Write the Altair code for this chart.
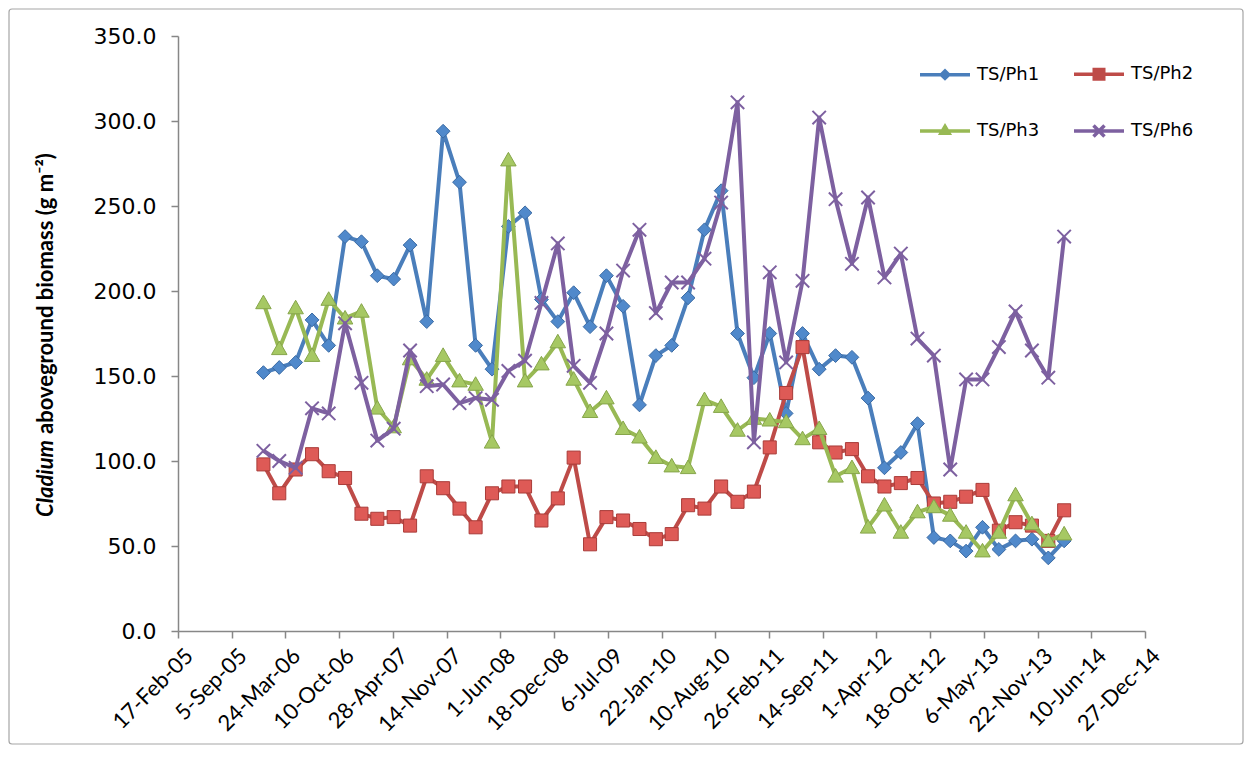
import altair as alt
import pandas as pd

# ---------------- data ----------------
dates = [
    "2006-01-01", "2006-03-01", "2006-05-01", "2006-07-01", "2006-09-01", "2006-11-01",
    "2007-01-01", "2007-03-01", "2007-05-01", "2007-07-01", "2007-09-01", "2007-11-01",
    "2008-01-01", "2008-03-01", "2008-05-01", "2008-07-01", "2008-09-01", "2008-11-01",
    "2009-01-01", "2009-03-01", "2009-05-01", "2009-07-01", "2009-09-01", "2009-11-01",
    "2010-01-01", "2010-03-01", "2010-05-01", "2010-07-01", "2010-09-01", "2010-11-01",
    "2011-01-01", "2011-03-01", "2011-05-01", "2011-07-01", "2011-09-01", "2011-11-01",
    "2012-01-01", "2012-03-01", "2012-05-01", "2012-07-01", "2012-09-01", "2012-11-01",
    "2013-01-01", "2013-03-01", "2013-05-01", "2013-07-01", "2013-09-01", "2013-11-01",
    "2014-01-01", "2014-03-01",
]

ph1 = [152, 155, 158, 183, 168, 232, 229, 209, 207, 227,
       182, 294, 264, 168, 154, 238, 246, 195, 182, 199,
       179, 209, 191, 133, 162, 168, 196, 236, 259, 175,
       149, 175, 128, 175, 154, 162, 161, 137, 96, 105,
       122, 55, 53, 47, 61, 48, 53, 54, 43, 53]

ph2 = [98, 81, 95, 104, 94, 90, 69, 66, 67, 62,
       91, 84, 72, 61, 81, 85, 85, 65, 78, 102,
       51, 67, 65, 60, 54, 57, 74, 72, 85, 76,
       82, 108, 140, 167, 111, 105, 107, 91, 85, 87,
       90, 75, 76, 79, 83, 59, 64, 62, 53, 71]

ph3 = [193, 166, 190, 162, 195, 184, 188, 131, 120, 160,
       148, 162, 147, 145, 111, 277, 147, 157, 170, 148,
       129, 137, 119, 114, 102, 97, 96, 136, 132, 118,
       125, 124, 123, 113, 119, 91, 96, 61, 74, 58,
       70, 73, 68, 58, 47, 58, 80, 63, 53, 57]

ph6 = [106, 100, 96, 131, 128, 181, 146, 112, 119, 165,
       144, 145, 134, 137, 136, 153, 159, 193, 228, 156,
       146, 175, 212, 236, 187, 205, 205, 219, 252, 311,
       111, 211, 158, 206, 302, 254, 216, 255, 208, 222,
       172, 162, 95, 148, 148, 167, 188, 165, 149, 232]

series_names = ["TS/Ph1", "TS/Ph2", "TS/Ph3", "TS/Ph6"]

tick_dates = [
    "2005-02-17", "2005-09-05", "2006-03-24", "2006-10-10", "2007-04-28",
    "2007-11-14", "2008-06-01", "2008-12-18", "2009-07-06", "2010-01-22",
    "2010-08-10", "2011-02-26", "2011-09-14", "2012-04-01", "2012-10-18",
    "2013-05-06", "2013-11-22", "2014-06-10", "2014-12-27",
]
y_ticks = [0, 50, 100, 150, 200, 250, 300, 350]

# ---------------- styles ----------------
line_colors = ["#4A7EBB", "#BE4B48", "#98B954", "#7D60A0"]
marker_fill = ["#5089CB", "#DE5A56", "#A6C863", "#7D60A0"]
marker_edge = ["#3A6AA3", "#A93C39", "#86A54A", "#7D60A0"]
marker_path = [
    "M0,-1L1,0L0,1L-1,0Z",
    "M-1,-1H1V1H-1Z",
    "M0,-1L1,0.75H-1Z",
    "M-1,-1L1,1M-1,1L1,-1",
]
marker_size = [190, 170, 240, 180]
marker_filled = [True, True, True, False]

# legend symbols: a line with the marker in the middle (stroke-built)
legend_paths = [
    "M-1,0H1M0,-0.15L0.15,0L0,0.15L-0.15,0Z",
    "M-1,0H1M-0.19,-0.19H0.19V0.19H-0.19ZM-0.07,-0.07H0.07V0.07H-0.07Z",
    "M-1,0H1M0,-0.18L0.16,0.09H-0.16ZM0,-0.06L0.05,0.03H-0.05Z",
    "M-1,0H1M-0.22,-0.22L0.22,0.22M-0.22,0.22L0.22,-0.22",
]

rows = []
for name, vals in zip(series_names, [ph1, ph2, ph3, ph6]):
    for d, v in zip(dates, vals):
        rows.append({"date": d, "series": name, "value": v})
df = pd.DataFrame(rows)


def dt(s):
    y, m, d = (int(p) for p in s.split("-"))
    return alt.DateTime(year=y, month=m, date=d, utc=True)


x_enc = alt.X(
    "date:T",
    scale=alt.Scale(type="utc", domain=[dt(tick_dates[0]), dt(tick_dates[-1])]),
    axis=alt.Axis(
        values=[dt(s) for s in tick_dates],
        labelExpr="utcFormat(datum.value, '%-d-%b-%y')",
        labelAngle=-45,
        labelAlign="right",
        labelBaseline="middle",
        labelFont="Lato",
        labelFontSize=22,
        labelColor="#000000",
        labelPadding=14,
        labelOffset=11,
        labelOverlap=False,
        labelFlush=False,
        domainColor="#878787",
        domainWidth=1.5,
        tickColor="#878787",
        tickWidth=1.5,
        tickSize=7,
        grid=False,
        title=None,
    ),
)

y_enc = alt.Y(
    "value:Q",
    scale=alt.Scale(domain=[0, 350], nice=False, zero=True),
    axis=alt.Axis(
        values=y_ticks,
        format=".1f",
        labelFont="DejaVu Sans",
        labelFontSize=22,
        labelColor="#000000",
        labelPadding=15,
        domainColor="#878787",
        domainWidth=1.5,
        tickColor="#878787",
        tickWidth=1.5,
        tickSize=7,
        grid=False,
        title=None,
    ),
)

W, H = 967, 595
PAD = {"left": 170, "top": 28, "right": 100, "bottom": 115}

one = pd.DataFrame({"k": [0]})

frame = alt.Chart(one).mark_rect(
    fill="transparent", stroke="#A6A6A6", strokeWidth=1.2, cornerRadius=3
).encode(
    x=alt.value(-PAD["left"] + 1),
    x2=alt.value(W + PAD["right"] - 2),
    y=alt.value(-PAD["top"] + 1),
    y2=alt.value(H + PAD["bottom"] - 2),
)

layers = [frame]
for i, name in enumerate(series_names):
    base = alt.Chart(df).transform_filter(alt.datum.series == name)
    layers.append(
        base.mark_line(color=line_colors[i], strokeWidth=4, strokeJoin="round").encode(
            x=x_enc, y=y_enc
        )
    )
    if marker_filled[i]:
        pts = base.mark_point(
            shape=marker_path[i], filled=True, size=marker_size[i],
            fill=marker_fill[i], stroke=marker_edge[i], strokeWidth=1, opacity=1,
        )
    else:
        pts = base.mark_point(
            shape=marker_path[i], filled=False, size=marker_size[i],
            stroke=marker_edge[i], strokeWidth=2, opacity=1,
        )
    layers.append(pts.encode(x=x_enc, y=y_enc))

leg = alt.Legend(
    orient="none", legendX=740, legendY=11, columns=2, direction="horizontal",
    title=None,
    labelFont="DejaVu Sans", labelFontSize=18, labelColor="#000000",
    labelOffset=5, columnPadding=27, rowPadding=18, padding=0,
    symbolSize=2500, symbolStrokeWidth=3.5, symbolOpacity=1,
)
legend_layer = alt.Chart(df).mark_point(opacity=0, filled=False).encode(
    x=x_enc,
    y=y_enc,
    color=alt.Color("series:N", scale=alt.Scale(domain=series_names, range=line_colors), legend=leg),
    shape=alt.Shape("series:N", scale=alt.Scale(domain=series_names, range=legend_paths), legend=leg),
)
layers.append(legend_layer)

title_a = alt.Chart(one).mark_text(
    text="Cladium", font="Lato", fontSize=22, fontWeight="bold", fontStyle="italic",
    angle=270, align="right", baseline="middle", color="#000000",
).encode(x=alt.value(-132), y=alt.value(404))
title_b = alt.Chart(one).mark_text(
    text="aboveground biomass (g m\u207b\u00b2)", font="Lato", fontSize=22, fontWeight="bold",
    angle=270, align="left", baseline="middle", color="#000000",
).encode(x=alt.value(-132), y=alt.value(398))
layers += [title_a, title_b]

chart = alt.layer(*layers).properties(
    width=W, height=H,
    autosize=alt.AutoSizeParams(type="none"),
    padding=PAD,
    background="#ffffff",
).configure_view(stroke=None)

chart.save("out.html", embed_options={"renderer": "svg", "actions": False})
